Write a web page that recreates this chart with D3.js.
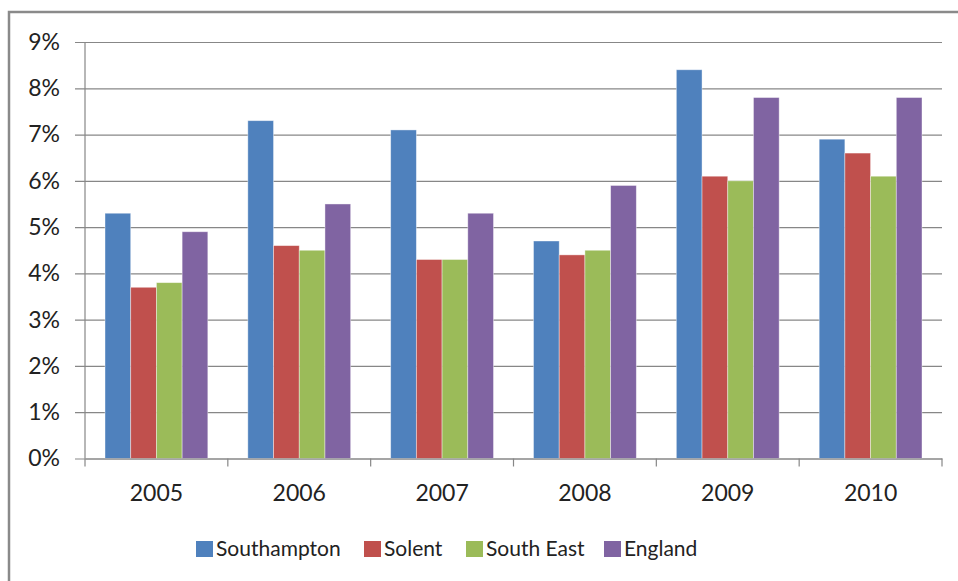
<!DOCTYPE html>
<meta charset="utf-8">
<style>
body{ margin:0; background:#fff; }
text{ font-family: Lato, "Open Sans", sans-serif; fill:#222; }
</style>
<body></body>
<script src="https://cdn.jsdelivr.net/npm/d3@7"></script>
<script>

var years = ['2005', '2006', '2007', '2008', '2009', '2010']
var seriesNames = ['Southampton', 'Solent', 'South East', 'England']
var southampton = [5.3, 7.3, 7.1, 4.7, 8.4, 6.9]
var solent      = [3.7, 4.6, 4.3, 4.4, 6.1, 6.6]
var southEast   = [3.8, 4.5, 4.3, 4.5, 6.0, 6.1]
var england     = [4.9, 5.5, 5.3, 5.9, 7.8, 7.8]
var yTicks = [0, 1, 2, 3, 4, 5, 6, 7, 8, 9]
var colors = ['#4F81BD', '#C0504D', '#9BBB59', '#8064A2']

var allSeries = [southampton, solent, southEast, england]

var width = 958, height = 581
var m = {left: 85, right: 942, top: 42, bottom: 458.5}

var svg = d3.select('body').append('svg')
	.attr('width', width).attr('height', height)

// outer frame (runs off the right/bottom edge)
svg.append('rect')
	.attr('x', 9).attr('y', 12)
	.attr('width', 1000).attr('height', 1000)
	.attr('fill', 'none').attr('stroke', '#8a8a8a').attr('stroke-width', 2.5)

var x0 = d3.scaleBand().domain(years).range([m.left, m.right])
var x1 = d3.scaleBand().domain(seriesNames)
	.range([20, x0.bandwidth() - 20])
var y = d3.scaleLinear().domain([0, 9]).range([m.bottom, m.top])

// gridlines + y axis
var yAxis = d3.axisLeft(y).tickValues(yTicks)
	.tickFormat(function(d){ return d + '%' })
	.tickSize(-(m.right - m.left)).tickPadding(25)

var gy = svg.append('g').attr('transform', 'translate(' + m.left + ',0)').call(yAxis)
gy.select('.domain').remove()
gy.selectAll('.tick line').attr('stroke', '#878787').attr('stroke-width', 1.2)
	.attr('x1', -10)
gy.selectAll('.tick text').attr('font-size', 23).style('fill', '#222')
	.attr('font-family', 'Lato, sans-serif')

svg.append('line')
	.attr('x1', m.left).attr('x2', m.left)
	.attr('y1', m.top).attr('y2', m.bottom)
	.attr('stroke', '#878787').attr('stroke-width', 1.2)

// bars
var groups = svg.append('g').selectAll('g')
	.data(years)
	.enter().append('g')
	.attr('transform', function(d){ return 'translate(' + x0(d) + ',0)' })

groups.selectAll('rect')
	.data(function(d, i){
		return allSeries.map(function(s, k){ return {name: seriesNames[k], v: s[i], k: k} })
	})
	.enter().append('rect')
	.attr('x', function(d){ return x1(d.name) })
	.attr('width', x1.bandwidth())
	.attr('y', function(d){ return y(d.v) })
	.attr('height', function(d){ return y(0) - y(d.v) })
	.attr('fill', function(d){ return colors[d.k] })
	.attr('stroke', '#fff').attr('stroke-opacity', 0.5).attr('stroke-width', 0.8)

// x axis
var xAxis = d3.axisBottom(x0).tickSize(0).tickPadding(26)
var gx = svg.append('g').attr('transform', 'translate(0,' + m.bottom + ')').call(xAxis)
gx.select('.domain').attr('stroke', '#878787').attr('stroke-width', 1.2)
gx.selectAll('.tick text').attr('font-size', 23).style('fill', '#222')
	.attr('font-family', 'Lato, sans-serif')

svg.append('g').selectAll('line')
	.data(years.concat(['end']))
	.enter().append('line')
	.attr('x1', function(d){ return d === 'end' ? m.right : x0(d) })
	.attr('x2', function(d){ return d === 'end' ? m.right : x0(d) })
	.attr('y1', m.bottom).attr('y2', m.bottom + 8)
	.attr('stroke', '#878787').attr('stroke-width', 1.2)

// legend
var legend = svg.append('g')
var legendX = [196, 364, 466, 604]
seriesNames.forEach(function(name, k){
	legend.append('rect')
		.attr('x', legendX[k]).attr('y', 541)
		.attr('width', 17).attr('height', 16)
		.attr('fill', colors[k])
	legend.append('text')
		.attr('x', legendX[k] + 20).attr('y', 549)
		.attr('dy', '0.35em')
		.attr('font-size', 21)
		.text(name)
})

</script>
